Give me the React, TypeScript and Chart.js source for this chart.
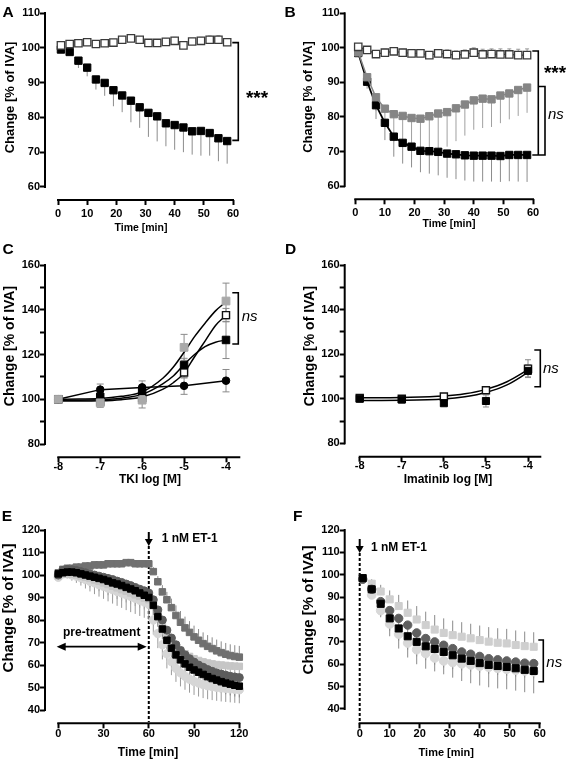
import React, { useEffect, useRef } from "react";
import { Chart, registerables } from "chart.js";
Chart.register(...registerables);

const FONT = '"Liberation Sans", Arial, Helvetica, sans-serif';

// ---------------- Panel A ----------------
const aTime = [1, 4, 7, 10, 13, 16, 19, 22, 25, 28, 31, 34, 37, 40, 43, 46, 49, 52, 55, 58];
const aControl = [100.7, 101.1, 101.3, 101.6, 101.1, 101.3, 101.5, 102.3, 102.7, 102.3, 101.4, 101.4, 101.7, 102.0, 100.7, 101.8, 102.0, 102.3, 102.3, 101.6];
const aControlErr = [0.6, 0.6, 0.7, 0.7, 0.6, 0.7, 0.8, 0.9, 1.0, 0.9, 0.8, 0.8, 0.9, 1.0, 0.9, 0.9, 1.0, 1.1, 1.2, 1.0];
const aTreated = [99.5, 98.8, 96.3, 94.3, 90.9, 89.9, 87.8, 86.3, 84.8, 82.9, 81.3, 80.3, 78.3, 77.8, 77.1, 76.0, 76.1, 75.5, 74.0, 73.2];
const aTreatedErr = [0.5, 0.8, 2.1, 2.5, 2.9, 3.7, 4.6, 4.8, 6.2, 5.9, 6.9, 7.2, 6.6, 7.1, 7.1, 6.7, 7.1, 6.5, 6.6, 6.5];

// ---------------- Panel B ----------------
const bTime = [1, 4, 7, 10, 13, 16, 19, 22, 25, 28, 31, 34, 37, 40, 43, 46, 49, 52, 55, 58];
const bControl = [100.3, 99.4, 98.2, 98.6, 99.0, 98.6, 98.4, 98.4, 97.9, 98.4, 98.2, 97.9, 98.1, 98.6, 98.1, 98.2, 98.1, 98.1, 97.9, 97.9];
const bControlErr = [0.5, 0.8, 1.0, 1.0, 1.0, 1.0, 1.0, 1.0, 1.0, 1.0, 1.2, 1.2, 1.3, 1.4, 1.5, 1.5, 1.6, 1.6, 1.7, 1.8];
const bGray = [98.7, 91.5, 85.7, 82.4, 80.8, 80.3, 79.7, 79.5, 80.2, 81.0, 81.4, 82.5, 83.6, 84.8, 85.3, 85.1, 86.2, 86.8, 87.8, 88.5];
const bGrayErr = [0.5, 2.0, 4.0, 6.0, 8.0, 9.0, 9.5, 10.0, 10.0, 10.0, 10.0, 9.5, 9.0, 8.5, 8.5, 8.0, 8.0, 7.5, 7.5, 7.3];
const bBlack = [98.5, 90.2, 83.4, 78.3, 74.3, 72.5, 71.4, 70.2, 70.1, 69.9, 69.4, 69.2, 68.9, 68.8, 68.8, 68.8, 68.7, 69.0, 69.0, 69.0];
const bBlackErr = [0.5, 2.0, 4.0, 5.0, 5.8, 6.0, 6.0, 6.2, 6.5, 6.8, 7.0, 7.2, 7.3, 7.5, 7.5, 7.5, 7.5, 7.6, 7.7, 7.8];

// ---------------- Panel C ----------------
const cDose = [-8, -7, -6, -5, -4];
const cGray = [100, 98.4, 99.6, 123.2, 143.9];
const cGrayErr = [0.5, 2.0, 3.5, 5.8, 8.0];
const cOpen = [100, 99.0, 100.5, 112.0, 137.6];
const cOpenErr = [0.5, 1.5, 1.5, 2.5, 3.0];
const cBlack = [100, 101.1, 103.7, 115.3, 126.5];
const cBlackErr = [0.5, 2.0, 2.0, 3.0, 8.3];
const cCircle = [100, 104.3, 105.3, 106.0, 108.3];
const cCircleErr = [0.5, 2.5, 2.9, 3.8, 5.0];
const cFitDose = [-8, -7.5, -7, -6.5, -6, -5.5, -5.25, -5, -4.75, -4.5, -4.25, -4];
const cGrayFit = [100, 100.1, 100.3, 101.3, 103.3, 109.5, 114.5, 121, 128, 134, 139.5, 143.5];
const cOpenFit = [99.2, 99.2, 99.3, 99.8, 101, 104.5, 107.5, 111.8, 119, 126, 133, 137.5];
const cBlackFit = [99.6, 99.6, 99.8, 100.5, 102.2, 107, 110.5, 115.5, 120, 123.5, 125.5, 126.5];

// ---------------- Panel D ----------------
const dDose = [-8, -7, -6, -5, -4];
const dOpen = [100.3, 100.0, 101.0, 103.8, 113.5];
const dOpenErr = [0.5, 0.8, 1.0, 1.5, 4.0];
const dBlack = [100.0, 99.6, 98.0, 99.0, 112.5];
const dBlackErr = [0.5, 0.8, 1.0, 2.7, 2.7];
const dFitDose = [-8, -7, -6, -5.5, -5, -4.5, -4];
const dOpenFit = [100.4, 100.6, 101.2, 102.2, 104.2, 107.6, 113.0];
const dBlackFit = [99.2, 99.3, 99.9, 100.9, 102.8, 106.2, 111.8];

// ---------------- Panel E ----------------
const eTime = [0, 3, 6, 9, 12, 15, 18, 21, 24, 27, 30, 33, 36, 39, 42, 45, 48, 51, 54, 57, 60, 63, 66, 69, 72, 75, 78, 81, 84, 87, 90, 93, 96, 99, 102, 105, 108, 111, 114, 117, 120];
const eBlack = [100.5, 101, 101.3, 101.3, 101, 100.5, 100, 99.5, 99, 98.5, 98, 97.3, 96.5, 96, 95.3, 94.5, 93.8, 93, 92, 91, 90, 86.5, 81.5, 76, 71, 67.5, 64.5, 62.3, 60.5, 59, 57.8, 56.8, 55.8, 54.8, 54, 53.3, 52.6, 52, 51.5, 51, 50.6];
const eBlackErr = [0.5, 0.8, 1, 1.2, 1.5, 1.8, 2, 2.2, 2.4, 2.6, 2.8, 3, 3.2, 3.4, 3.5, 3.6, 3.7, 3.8, 3.9, 4, 4, 4.2, 4.4, 4.6, 4.8, 5, 5, 5, 5, 5, 5, 5, 5, 5, 5, 5, 5, 5, 5, 5, 5];
const eDarkCirc = [100, 102, 102.5, 102.3, 102, 101.5, 101, 100.5, 100, 99.5, 99, 98.5, 98, 97.3, 96.7, 96, 95.3, 94.5, 93.7, 93, 92, 89, 84.5, 80, 75.5, 72, 69, 66.5, 64.5, 62.8, 61.3, 60, 59, 58, 57.2, 56.5, 56, 55.5, 55, 54.7, 54.4];
const eDarkCircErr = [0.5, 0.8, 1, 1, 1.2, 1.4, 1.6, 1.8, 2, 2.2, 2.4, 2.6, 2.8, 3, 3, 3, 3, 3, 3, 3, 3, 3.2, 3.4, 3.6, 3.8, 4, 4, 4, 4, 4, 4, 4, 4, 4, 4, 4, 4, 4, 4, 4, 4];
const eDarkSq = [101, 102.5, 103, 103, 103.5, 103.5, 104, 104, 104.5, 104.5, 104.5, 105, 105, 105, 105, 105.5, 105.5, 105, 105, 105, 105, 101.5, 97, 92.5, 89, 85.5, 82, 79, 76.5, 74.5, 72.5, 71, 69.5, 68.3, 67.3, 66.3, 65.5, 64.8, 64.2, 63.8, 63.5];
const eDarkSqErr = [0.8, 1, 1, 1, 1.2, 1.2, 1.3, 1.3, 1.4, 1.4, 1.5, 1.5, 1.5, 1.5, 1.5, 1.5, 1.5, 1.5, 1.5, 1.5, 1.5, 2, 2.5, 3, 3.5, 4, 4.5, 5, 5, 5, 5, 5, 5, 5, 5, 5, 5, 5, 5, 5, 5];
const eLightSq = [99.5, 100.5, 100.5, 100.3, 100, 99.5, 99, 98.5, 97.8, 97.2, 96.5, 95.8, 95, 94.3, 93.5, 92.8, 92, 91.2, 90.5, 89.7, 89, 87, 82, 77.5, 74, 71, 68.5, 66.5, 65, 63.8, 62.8, 62, 61.4, 60.9, 60.5, 60.2, 60, 59.8, 59.6, 59.5, 59.4];
const eLightSqErr = [0.8, 1, 1.5, 2, 2.5, 3, 3.5, 4, 4.2, 4.4, 4.6, 4.8, 5, 5, 5, 5, 5, 5, 5, 5, 5, 5, 5, 5, 5, 5, 5, 5, 5, 5, 5, 5, 5, 5, 5, 5, 5, 5, 5, 5, 5];
const eLightCirc = [99, 100.5, 100.5, 100, 99.5, 98.8, 98, 97.2, 96.5, 95.7, 95, 94.2, 93.5, 92.7, 92, 91.2, 90.5, 89.7, 88.8, 88, 87, 80, 74, 69, 65, 61.5, 58.5, 56.5, 55, 53.7, 52.7, 52, 51.3, 50.8, 50.4, 50.1, 49.8, 49.6, 49.4, 49.2, 49];
const eLightCircErr = [1, 1.5, 2, 2.5, 3, 3.5, 4, 4.5, 5, 5.3, 5.6, 5.9, 6.2, 6.4, 6.6, 6.8, 7, 7, 7, 7, 7, 6.5, 6.5, 6.5, 6.5, 6, 6, 6, 6, 6, 6, 6, 6, 6, 6, 6, 6, 6, 6, 6, 6];

// ---------------- Panel F ----------------
const fTime = [1, 4, 7, 10, 13, 16, 19, 22, 25, 28, 31, 34, 37, 40, 43, 46, 49, 52, 55, 58];
const fBlack = [98.5, 93.5, 87, 80.5, 76, 72.5, 70, 68, 66.8, 65.5, 64, 62.5, 61.5, 60.5, 59.7, 59.2, 58.8, 58.2, 57.5, 57];
const fBlackErr = [1, 3, 6, 8, 9, 9.5, 10, 10, 10, 10, 10, 10, 10, 10, 10, 10, 10, 10, 10, 10];
const fLightSq = [98.5, 96, 92.5, 89, 86, 83, 80, 77.5, 75.5, 74, 73, 72.3, 71.6, 70.8, 70.1, 69.6, 69.3, 68.6, 68.1, 67.8];
const fLightSqErr = [1, 2, 3, 4, 5, 5.5, 6, 6, 6.5, 6.5, 6.5, 6.5, 6.5, 6.5, 6.5, 6.5, 6.5, 6.5, 6.5, 6.5];
const fDarkCirc = [98, 93.5, 88, 84, 80.5, 77.5, 74, 71.5, 70, 68.5, 67, 65.5, 64.5, 63.5, 62.5, 62, 61.5, 61, 60.5, 60.3];
const fDarkCircErr = [1, 2, 3, 3, 3.5, 3.5, 3.5, 3.5, 3.5, 3.5, 3.5, 3.5, 3.5, 3.5, 3.5, 3.5, 3.5, 3.5, 3.5, 3.5];
const fLightCirc = [98, 91, 84, 78, 73.5, 69.5, 66.5, 64.8, 62.8, 61.5, 60.8, 60.2, 59.7, 59.2, 58.7, 58.2, 57.8, 57.4, 57, 56.7];
const fLightCircErr = [0.5, 1.5, 2.5, 3, 3, 3, 3, 3, 3, 3, 3, 3, 3, 3, 3, 3, 3, 3, 3, 3];

// ---------------- Axis ticks ----------------
const timeTicks60 = [0, 10, 20, 30, 40, 50, 60];
const timeTicks120 = [0, 30, 60, 90, 120];
const doseTicks = [-8, -7, -6, -5, -4];
const yTicksAB = [60, 70, 80, 90, 100, 110];
const yTicksCD = [80, 90, 100, 110, 120, 130, 140, 150, 160];
const yLabelsCD = [80, 100, 120, 140, 160];
const yTicksEF = [40, 50, 60, 70, 80, 90, 100, 110, 120];

const YTITLE = "Change [% of IVA]";

// ---------------- helpers ----------------
const pts = (xs: number[], ys: number[]) => xs.map((x, i) => ({ x, y: ys[i] }));

function sq(label: string, xs: number[], ys: number[], fill: string, border: string, r: number, extra: any = {}) {
  return {
    label, data: pts(xs, ys), pointStyle: "rect", pointRadius: r, pointBorderWidth: 1, borderWidth: 1,
    backgroundColor: fill, borderColor: border, pointBackgroundColor: fill, pointBorderColor: border,
    showLine: false, clip: false, ...extra,
  };
}
function circ(label: string, xs: number[], ys: number[], fill: string, r: number, extra: any = {}) {
  return {
    label, data: pts(xs, ys), pointStyle: "circle", pointRadius: r, pointBorderWidth: 1, borderWidth: 1,
    backgroundColor: fill, borderColor: fill, pointBackgroundColor: fill, pointBorderColor: fill,
    showLine: false, clip: false, ...extra,
  };
}
function fit(label: string, xs: number[], ys: number[]) {
  return {
    label, data: pts(xs, ys), showLine: true, pointRadius: 0, borderColor: "#000", borderWidth: 1.5,
    backgroundColor: "#000", cubicInterpolationMode: "monotone", clip: false,
  };
}

function txt(ctx: CanvasRenderingContext2D, s: string, x: number, y: number, font: string, align: CanvasTextAlign = "center", base: CanvasTextBaseline = "middle") {
  ctx.font = font; ctx.fillStyle = "#000"; ctx.textAlign = align; ctx.textBaseline = base; ctx.fillText(s, x, y);
}
function vtxt(ctx: CanvasRenderingContext2D, s: string, x: number, y: number, font: string) {
  ctx.save(); ctx.translate(x, y); ctx.rotate(-Math.PI / 2); txt(ctx, s, 0, 0, font); ctx.restore();
}
function bracket(ctx: CanvasRenderingContext2D, x: number, y1: number, y2: number, arm: number) {
  ctx.save(); ctx.strokeStyle = "#000"; ctx.lineWidth = 1.6; ctx.beginPath();
  ctx.moveTo(x - arm, y1); ctx.lineTo(x, y1); ctx.lineTo(x, y2); ctx.lineTo(x - arm, y2); ctx.stroke(); ctx.restore();
}
function arrowDown(ctx: CanvasRenderingContext2D, x: number, y1: number, y2: number) {
  ctx.save(); ctx.strokeStyle = "#000"; ctx.fillStyle = "#000"; ctx.lineWidth = 2;
  ctx.beginPath(); ctx.moveTo(x, y1); ctx.lineTo(x, y2 - 6); ctx.stroke();
  ctx.beginPath(); ctx.moveTo(x - 4, y2 - 7); ctx.lineTo(x + 4, y2 - 7); ctx.lineTo(x, y2); ctx.closePath(); ctx.fill();
  ctx.restore();
}
function dashed(ctx: CanvasRenderingContext2D, x: number, y1: number, y2: number) {
  ctx.save(); ctx.strokeStyle = "#000"; ctx.lineWidth = 2; ctx.setLineDash([3, 2]);
  ctx.beginPath(); ctx.moveTo(x, y1); ctx.lineTo(x, y2); ctx.stroke(); ctx.restore();
}
function doubleArrow(ctx: CanvasRenderingContext2D, x1: number, x2: number, y: number) {
  ctx.save(); ctx.strokeStyle = "#000"; ctx.fillStyle = "#000"; ctx.lineWidth = 1.8;
  ctx.beginPath(); ctx.moveTo(x1 + 6, y); ctx.lineTo(x2 - 6, y); ctx.stroke();
  ctx.beginPath(); ctx.moveTo(x1, y); ctx.lineTo(x1 + 9, y - 4); ctx.lineTo(x1 + 9, y + 4); ctx.closePath(); ctx.fill();
  ctx.beginPath(); ctx.moveTo(x2, y); ctx.lineTo(x2 - 9, y - 4); ctx.lineTo(x2 - 9, y + 4); ctx.closePath(); ctx.fill();
  ctx.restore();
}

type P = { x: (v: number) => number; y: (v: number) => number };
type Cfg = {
  id: string;
  box: [number, number, number, number];
  area: [number, number, number, number];
  xPad: number;
  xMin: number; xMax: number; xTicks: number[]; xAxis: [number, number];
  yMin: number; yMax: number; yTicks: number[]; yLabels: number[]; yAxis: [number, number];
  datasets: any[];
  under?: (ctx: CanvasRenderingContext2D, p: P) => void;
  over: (ctx: CanvasRenderingContext2D, p: P) => void;
};

const B = (s: number) => `bold ${s}px ${FONT}`;
const I = (s: number) => `italic ${s}px ${FONT}`;
const STAR = B(19);

function makeChart(canvas: HTMLCanvasElement, cfg: Cfg) {
  const [bl, bt, bw, bh] = cfg.box;
  const [al, at, ar, ab] = cfg.area;
  const mkP = (chart: any): P => ({
    x: (v: number) => chart.scales.x.getPixelForValue(v) + bl,
    y: (v: number) => chart.scales.y.getPixelForValue(v) + bt,
  });
  const plugin = {
    id: "panel" + cfg.id,
    beforeDatasetsDraw(chart: any) {
      const ctx: CanvasRenderingContext2D = chart.ctx;
      const p = mkP(chart);
      ctx.save();
      ctx.translate(-bl, -bt);
      ctx.strokeStyle = "#000"; ctx.lineWidth = 2;
      ctx.beginPath();
      ctx.moveTo(al, p.y(cfg.yAxis[0]) + 1); ctx.lineTo(al, p.y(cfg.yAxis[1]) - 1); ctx.stroke();
      ctx.beginPath();
      ctx.moveTo(p.x(cfg.xAxis[0]) - 1, ab); ctx.lineTo(p.x(cfg.xAxis[1]) + 1, ab); ctx.stroke();
      if (cfg.under) cfg.under(ctx, p);
      const dsets = chart.data.datasets;
      for (let di = dsets.length - 1; di >= 0; di--) {
        const ds = dsets[di];
        if (!ds.errUp && !ds.errDown) continue;
        ctx.strokeStyle = ds.errColor || "#888"; ctx.lineWidth = 1;
        const cw = ds.capW || 0;
        ds.data.forEach((d: any, i: number) => {
          const x = p.x(d.x), y = p.y(d.y);
          const draw = (e: number | undefined, sgn: number) => {
            if (!e) return;
            const ye = p.y(d.y + sgn * e);
            ctx.beginPath(); ctx.moveTo(x, y); ctx.lineTo(x, ye);
            if (cw) { ctx.moveTo(x - cw / 2, ye); ctx.lineTo(x + cw / 2, ye); }
            ctx.stroke();
          };
          if (ds.errUp) draw(ds.errUp[i], 1);
          if (ds.errDown) draw(ds.errDown[i], -1);
        });
      }
      ctx.restore();
    },
    afterDatasetsDraw(chart: any) {
      const ctx: CanvasRenderingContext2D = chart.ctx;
      const p = mkP(chart);
      ctx.save();
      ctx.translate(-bl, -bt);
      cfg.over(ctx, p);
      ctx.restore();
    },
  };
  const tickFont = { family: FONT, size: 11, weight: "bold" as const };
  const grid = { display: true, drawOnChartArea: false, drawTicks: true, tickLength: 5, tickWidth: 2, tickColor: "#000", color: "#000" };
  return new Chart(canvas, {
    type: "scatter",
    data: { datasets: cfg.datasets },
    options: {
      responsive: false, animation: false, devicePixelRatio: 1, events: [],
      layout: { padding: { left: 0, top: at - bt, right: bl + bw - ar, bottom: 0 } },
      plugins: { legend: { display: false }, tooltip: { enabled: false } },
      scales: {
        x: {
          type: "linear", min: cfg.xMin, max: cfg.xMax,
          afterBuildTicks: (s: any) => { s.ticks = cfg.xTicks.map((v) => ({ value: v })); },
          afterFit: (s: any) => { s.height = bt + bh - ab; },
          grid, border: { display: false },
          ticks: { font: tickFont, color: "#000", padding: cfg.xPad, maxRotation: 0, autoSkip: false, callback: (v: any) => String(v) },
        },
        y: {
          type: "linear", min: cfg.yMin, max: cfg.yMax,
          afterBuildTicks: (s: any) => { s.ticks = cfg.yTicks.map((v) => ({ value: v })); },
          afterFit: (s: any) => { s.width = al - bl; },
          grid, border: { display: false },
          ticks: { font: tickFont, color: "#000", padding: 0, autoSkip: false, callback: (v: any) => (cfg.yLabels.includes(v) ? String(v) : "") },
        },
      },
    } as any,
    plugins: [plugin],
  });
}

// ---------------- Panel configurations ----------------
const panels: Cfg[] = [
  {
    id: "A", box: [0, 0, 283, 240], area: [45, 13, 233, 200], xPad: 2,
    xMin: -4.46, xMax: 60, xTicks: timeTicks60, xAxis: [0, 60],
    yMin: 56.26, yMax: 110, yTicks: yTicksAB, yLabels: yTicksAB, yAxis: [60, 110],
    datasets: [
      sq("Control", aTime, aControl, "#ffffff", "#3a3a3a", 5.2, { pointBorderWidth: 1.3, errUp: aControlErr, errColor: "#999", capW: 4 }),
      sq("Treated", aTime, aTreated, "#000000", "#000000", 5.2, { errDown: aTreatedErr, errColor: "#8c8c8c" }),
    ],
    over: (ctx, p) => {
      txt(ctx, "A", 2.5, 16.7, B(15.5), "left", "alphabetic");
      vtxt(ctx, YTITLE, 10, 97.5, B(13));
      txt(ctx, "Time [min]", 141, 228, B(10.5));
      bracket(ctx, 238.3, p.y(101.5), p.y(73.4), 6);
      txt(ctx, "***", 257, 104, STAR, "center", "alphabetic");
    },
  },
  {
    id: "B", box: [283, 0, 284, 240], area: [344.7, 13.3, 533, 199.3], xPad: 2,
    xMin: -3.57, xMax: 60, xTicks: timeTicks60, xAxis: [0, 60],
    yMin: 56.17, yMax: 110, yTicks: yTicksAB, yLabels: yTicksAB, yAxis: [60, 110],
    datasets: [
      sq("Control", bTime, bControl, "#ffffff", "#3a3a3a", 5.2, { pointBorderWidth: 1.3, errUp: bControlErr, errColor: "#999", capW: 4, showLine: true, borderWidth: 1.2 }),
      sq("Gray", bTime, bGray, "#858585", "#858585", 5.2, { errDown: bGrayErr, errColor: "#a0a0a0", showLine: true, borderWidth: 1.5 }),
      sq("Black", bTime, bBlack, "#000000", "#000000", 5.2, { errDown: bBlackErr, errColor: "#8c8c8c", showLine: true, borderWidth: 1.8 }),
    ],
    over: (ctx, p) => {
      txt(ctx, "B", 284.5, 17, B(15.5), "left", "alphabetic");
      vtxt(ctx, YTITLE, 308, 97, B(13));
      txt(ctx, "Time [min]", 449, 224, B(10.5));
      bracket(ctx, 538.3, p.y(99.1), p.y(69.0), 6);
      bracket(ctx, 545, p.y(88.8), p.y(69.0), 6);
      txt(ctx, "***", 555, 79, STAR, "center", "alphabetic");
      txt(ctx, "ns", 548, 119, I(15), "left", "alphabetic");
    },
  },
  {
    id: "C", box: [0, 240, 283, 262], area: [45, 265, 239.3, 457.3], xPad: -2,
    xMin: -8.317, xMax: -3.683, xTicks: doseTicks, xAxis: [-8, -3.683],
    yMin: 74.06, yMax: 160, yTicks: yTicksCD, yLabels: yLabelsCD, yAxis: [80, 160],
    datasets: [
      sq("Gray", cDose, cGray, "#a9a9a9", "#a9a9a9", 5.5, { errUp: cGrayErr, errDown: cGrayErr, errColor: "#8a8a8a", capW: 7 }),
      sq("Black", cDose, cBlack, "#000000", "#000000", 5.3, { errUp: cBlackErr, errDown: cBlackErr, errColor: "#8a8a8a", capW: 7 }),
      sq("Open", cDose, cOpen, "#ffffff", "#111111", 5.0, { pointBorderWidth: 1.4, errUp: cOpenErr, errDown: cOpenErr, errColor: "#8a8a8a", capW: 7 }),
      circ("Circle", cDose, cCircle, "#000000", 3.8, { showLine: true, borderWidth: 1.5, errUp: cCircleErr, errDown: cCircleErr, errColor: "#8a8a8a", capW: 7 }),
      fit("GrayFit", cFitDose, cGrayFit),
      fit("OpenFit", cFitDose, cOpenFit),
      fit("BlackFit", cFitDose, cBlackFit),
    ],
    over: (ctx, p) => {
      txt(ctx, "C", 2.5, 254, B(15.5), "left", "alphabetic");
      vtxt(ctx, YTITLE, 10, 346, B(14));
      txt(ctx, "TKI log [M]", 150, 480, B(12));
      bracket(ctx, 238.3, p.y(147.6), p.y(124.7), 6);
      txt(ctx, "ns", 241.7, 321, I(15), "left", "alphabetic");
    },
  },
  {
    id: "D", box: [283, 240, 284, 262], area: [344.7, 265, 540.3, 456.7], xPad: -2,
    xMin: -8.357, xMax: -3.708, xTicks: doseTicks, xAxis: [-8, -3.708],
    yMin: 74.0, yMax: 160, yTicks: yTicksCD, yLabels: yLabelsCD, yAxis: [80, 160],
    datasets: [
      sq("Black", dDose, dBlack, "#000000", "#000000", 5.0, { errUp: dBlackErr, errDown: dBlackErr, errColor: "#8a8a8a", capW: 6 }),
      sq("Open", dDose, dOpen, "#ffffff", "#111111", 5.0, { pointBorderWidth: 1.4, errUp: dOpenErr, errDown: dOpenErr, errColor: "#8a8a8a", capW: 6 }),
      fit("OpenFit", dFitDose, dOpenFit),
      fit("BlackFit", dFitDose, dBlackFit),
    ],
    over: (ctx, p) => {
      txt(ctx, "D", 285, 254, B(15.5), "left", "alphabetic");
      vtxt(ctx, YTITLE, 310, 346, B(14));
      txt(ctx, "Imatinib log [M]", 448, 480, B(12));
      bracket(ctx, 540.3, p.y(121.9), p.y(105.4), 6);
      txt(ctx, "ns", 543, 373, I(15), "left", "alphabetic");
    },
  },
  {
    id: "E", box: [0, 502, 283, 257], area: [45, 530, 239.3, 723.3], xPad: -1,
    xMin: -8.8, xMax: 120, xTicks: timeTicks120, xAxis: [0, 120],
    yMin: 34.1, yMax: 120, yTicks: yTicksEF, yLabels: yTicksEF, yAxis: [40, 120],
    datasets: [
      sq("Black", eTime, eBlack, "#000000", "#000000", 4.6, { errDown: eBlackErr, errColor: "#8a8a8a" }),
      circ("DarkCirc", eTime, eDarkCirc, "#5c5c5c", 4.0, { errDown: eDarkCircErr, errColor: "#8a8a8a" }),
      sq("DarkSq", eTime, eDarkSq, "#707070", "#707070", 4.6, { errUp: eDarkSqErr, errColor: "#8a8a8a" }),
      sq("LightSq", eTime, eLightSq, "#c6c6c6", "#c6c6c6", 4.6, { errDown: eLightSqErr, errColor: "#a5a5a5" }),
      circ("LightCirc", eTime, eLightCirc, "#d6d6d6", 4.2, { errDown: eLightCircErr, errColor: "#9a9a9a" }),
    ],
    under: (ctx, p) => {
      dashed(ctx, p.x(60), 546, 722);
    },
    over: (ctx, p) => {
      txt(ctx, "E", 1.7, 520.7, B(15.5), "left", "alphabetic");
      vtxt(ctx, YTITLE, 9, 608, B(15));
      txt(ctx, "Time [min]", 148, 753, B(12));
      arrowDown(ctx, p.x(60), 532, 546);
      txt(ctx, "1 nM ET-1", 161.7, 538.5, B(12), "left");
      txt(ctx, "pre-treatment", 101.7, 632.3, B(12));
      doubleArrow(ctx, 56.7, 146.7, 646.7);
    },
  },
  {
    id: "F", box: [283, 502, 284, 257], area: [344.7, 530, 539.7, 723.3], xPad: -1,
    xMin: -5, xMax: 60, xTicks: timeTicks60, xAxis: [0, 60],
    yMin: 33.6, yMax: 120, yTicks: yTicksEF, yLabels: yTicksEF, yAxis: [40, 120],
    datasets: [
      sq("Black", fTime, fBlack, "#000000", "#000000", 5.0, { errDown: fBlackErr, errColor: "#8a8a8a" }),
      circ("DarkCirc", fTime, fDarkCirc, "#5f5f5f", 4.2, { errDown: fDarkCircErr, errColor: "#8a8a8a" }),
      sq("LightSq", fTime, fLightSq, "#cfcfcf", "#cfcfcf", 5.0, { errUp: fLightSqErr, errColor: "#8a8a8a" }),
      circ("LightCirc", fTime, fLightCirc, "#d8d8d8", 4.4, { errDown: fLightCircErr, errColor: "#a0a0a0" }),
    ],
    under: (ctx, p) => {
      dashed(ctx, p.x(0), 553, 722);
    },
    over: (ctx, p) => {
      txt(ctx, "F", 293, 520.7, B(15.5), "left", "alphabetic");
      vtxt(ctx, YTITLE, 309, 610, B(15));
      txt(ctx, "Time [min]", 446.3, 753, B(11));
      arrowDown(ctx, p.x(0), 539, 553);
      txt(ctx, "1 nM ET-1", 371, 547.7, B(12), "left");
      bracket(ctx, 543.3, p.y(70.8), p.y(52.2), 5);
      txt(ctx, "ns", 546.3, 667, I(15), "left", "alphabetic");
    },
  },
];

function Panel({ cfg }: { cfg: Cfg }) {
  const ref = useRef<HTMLCanvasElement>(null);
  useEffect(() => {
    const chart = makeChart(ref.current!, cfg);
    return () => chart.destroy();
  }, [cfg]);
  const [l, t, w, h] = cfg.box;
  return (
    <canvas
      ref={ref}
      width={w}
      height={h}
      style={{ position: "absolute", left: l, top: t, width: w, height: h }}
    />
  );
}

export default function App() {
  return (
    <div style={{ position: "absolute", left: 0, top: 0, width: 567, height: 759, background: "#ffffff", overflow: "hidden" }}>
      {panels.map((c) => (
        <Panel key={c.id} cfg={c} />
      ))}
    </div>
  );
}
